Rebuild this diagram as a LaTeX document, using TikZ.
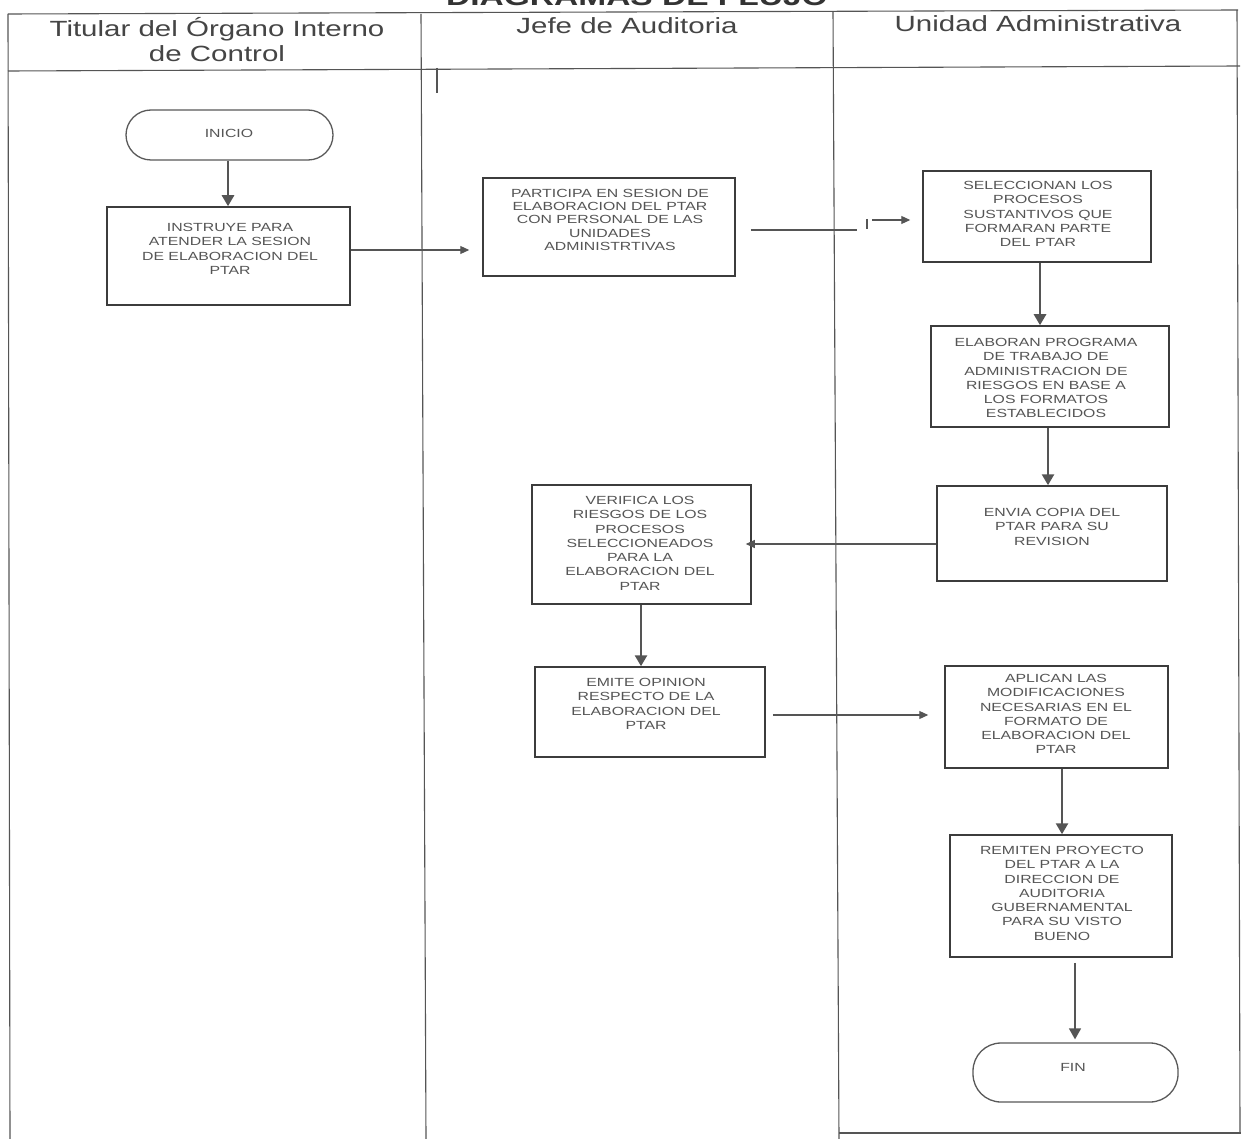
\documentclass[tikz,border=0pt]{standalone}
\usepackage{fontspec}
\setmainfont{Liberation Sans}
\newfontfamily\hdrfont{Liberation Sans}[FakeStretch=1.34]
\newfontfamily\boxfont{Liberation Sans}[FakeStretch=1.34]
\usetikzlibrary{arrows.meta,calc}

\definecolor{laneline}{HTML}{555555}
\definecolor{boxline}{HTML}{3C3C3C}
\definecolor{boxtxt}{HTML}{555555}
\definecolor{hdrtxt}{HTML}{454545}
\definecolor{arrowc}{HTML}{555555}

\tikzset{
  lane/.style={draw=laneline, line width=1.1pt},
  procbox/.style={draw=boxline, line width=1.5pt, rectangle, inner sep=0pt},
  termbox/.style={draw=boxline!85, line width=1.3pt, rectangle, rounded corners=25pt, inner sep=0pt},
  steptext/.style={font=\boxfont\fontsize{11.8}{#1}\selectfont, text=boxtxt,
    align=center, inner sep=0pt, anchor=north},
  steptext/.default=14.3,
  hdr/.style={font=\hdrfont\fontsize{22}{25}\selectfont, text=hdrtxt, inner sep=0pt, anchor=base},
  flowthick/.style={draw=arrowc, line width=2.6pt, -{Triangle[length=11pt,width=12pt]}},
  flowthin/.style={draw=arrowc, line width=1.1pt, -{Triangle[length=9pt,width=8pt]}},
  thinline/.style={draw=arrowc, line width=1.1pt},
}

\begin{document}
\begin{tikzpicture}[x=1pt,y=-1pt]
\useasboundingbox (0,0) rectangle (1241,1139);
\clip (0,0) rectangle (1241,1139);
\fill[white] (0,0) rectangle (1241,1139);

% page title, running off the top edge of the sheet
\node[font=\hdrfont\bfseries\fontsize{25}{25}\selectfont, text=black!80, anchor=base, inner sep=0pt]
  (title) at (637,6) {DIAGRAMAS DE FLUJO};

% swimlane frame
\draw[lane] (8,14) -- (1238,10);
\draw[lane] (8,71) -- (1240,66);
\draw[lane] (8,14) -- (10,1139);
\draw[lane] (421,14) -- (426,1139);
\draw[lane] (833,12) -- (839,1139);
\draw[lane] (1237,10) -- (1240,1133);
\draw[lane] (839,1133) -- (1241,1133);
\draw[lane] (437,68) -- (437,93);

% lane headers
\node[hdr] (hA1) at (217,37) {Titular del Órgano Interno};
\node[hdr] (hA2) at (217,62) {de Control};
\node[hdr] (hB) at (627,34) {Jefe de Auditoria};
\node[hdr] (hC) at (1038,32) {Unidad Administrativa};

% terminals
\node[termbox, minimum width=207pt, minimum height=50pt] (ini) at (229.5,135) {};
\node[steptext, anchor=center] (iniT) at (229,133) {INICIO};
\node[termbox, minimum width=205pt, minimum height=59pt, rounded corners=28pt] (fin) at (1075.5,1072.5) {};
\node[steptext, anchor=center] (finT) at (1073,1067) {FIN};

% process boxes
\node[procbox, minimum width=243pt, minimum height=98pt]  (b1) at (228.5,256) {};
\node[procbox, minimum width=252pt, minimum height=98pt]  (b2) at (609,227) {};
\node[procbox, minimum width=228pt, minimum height=91pt]  (b3) at (1037,216.5) {};
\node[procbox, minimum width=238pt, minimum height=101pt] (b4) at (1050,376.5) {};
\node[procbox, minimum width=230pt, minimum height=95pt]  (b5) at (1052,533.5) {};
\node[procbox, minimum width=219pt, minimum height=119pt] (b6) at (641.5,544.5) {};
\node[procbox, minimum width=230pt, minimum height=90pt]  (b7) at (650,712) {};
\node[procbox, minimum width=223pt, minimum height=102pt] (b8) at (1056.5,717) {};
\node[procbox, minimum width=222pt, minimum height=122pt] (b9) at (1061,896) {};

% box texts
\node[steptext] (b1t) at (230,223) {INSTRUYE PARA\\ATENDER LA SESION\\DE ELABORACION DEL\\PTAR};
\node[steptext=13.2] (b2t) at (610,189) {PARTICIPA EN SESION DE\\ELABORACION DEL PTAR\\CON PERSONAL DE LAS\\UNIDADES\\ADMINISTRTIVAS};
\node[steptext] (b3t) at (1038,181) {SELECCIONAN LOS\\PROCESOS\\SUSTANTIVOS QUE\\FORMARAN PARTE\\DEL PTAR};
\node[steptext] (b4t) at (1046,338) {ELABORAN PROGRAMA\\DE TRABAJO DE\\ADMINISTRACION DE\\RIESGOS EN BASE A\\LOS FORMATOS\\ESTABLECIDOS};
\node[steptext] (b5t) at (1052,508) {ENVIA COPIA DEL\\PTAR PARA SU\\REVISION};
\node[steptext] (b6t) at (640,496) {VERIFICA LOS\\RIESGOS DE LOS\\PROCESOS\\SELECCIONEADOS\\PARA LA\\ELABORACION DEL\\PTAR};
\node[steptext] (b7t) at (646,678) {EMITE OPINION\\RESPECTO DE LA\\ELABORACION DEL\\PTAR};
\node[steptext] (b8t) at (1056,674) {APLICAN LAS\\MODIFICACIONES\\NECESARIAS EN EL\\FORMATO DE\\ELABORACION DEL\\PTAR};
\node[steptext] (b9t) at (1062,846) {REMITEN PROYECTO\\DEL PTAR A LA\\DIRECCION DE\\AUDITORIA\\GUBERNAMENTAL\\PARA SU VISTO\\BUENO};

% vertical flow columns
\coordinate (v1) at (228,0);
\coordinate (v2) at (1040,0);
\coordinate (v3) at (1048,0);
\coordinate (v4) at (641,0);
\coordinate (v5) at (1062,0);
\coordinate (v6) at (1075,0);

\draw[flowthick] (ini.south -| v1) -- (b1.north -| v1);
\draw[flowthick] (b3.south -| v2) -- (b4.north -| v2);
\draw[flowthick] (b4.south -| v3) -- (b5.north -| v3);
\draw[flowthick] (b6.south -| v4) -- (b7.north -| v4);
\draw[flowthick] (b8.south -| v5) -- (b9.north -| v5);
\draw[flowthick, line width=1.5pt] ($(b9.south -| v6)+(0,5)$) -- ($(fin.north -| v6)+(0,-3)$);

% horizontal flow rows
\coordinate (h1) at (0,250);
\coordinate (h2) at (0,230);
\coordinate (h3) at (0,544);
\coordinate (h4) at (0,715);
\coordinate (gapL) at (857,230);
\coordinate (tickT) at (867,219);
\coordinate (tickB) at (867,229);
\coordinate (arrS) at (872,220);

\draw[flowthin] (b1.east |- h1) -- ($(b2.west |- h1)+(-13,0)$);
\draw[thinline] ($(b2.east |- h2)+(15,0)$) -- (gapL);
\draw[thinline] (tickT) -- (tickB);
\draw[flowthin] (arrS) -- ($(b3.west |- arrS)+(-12,0)$);
\draw[flowthin] (b5.west |- h3) -- ($(b6.east |- h3)+(-6,0)$);
\draw[flowthin] ($(b7.east |- h4)+(7,0)$) -- ($(b8.west |- h4)+(-16,0)$);
\end{tikzpicture}
\end{document}
